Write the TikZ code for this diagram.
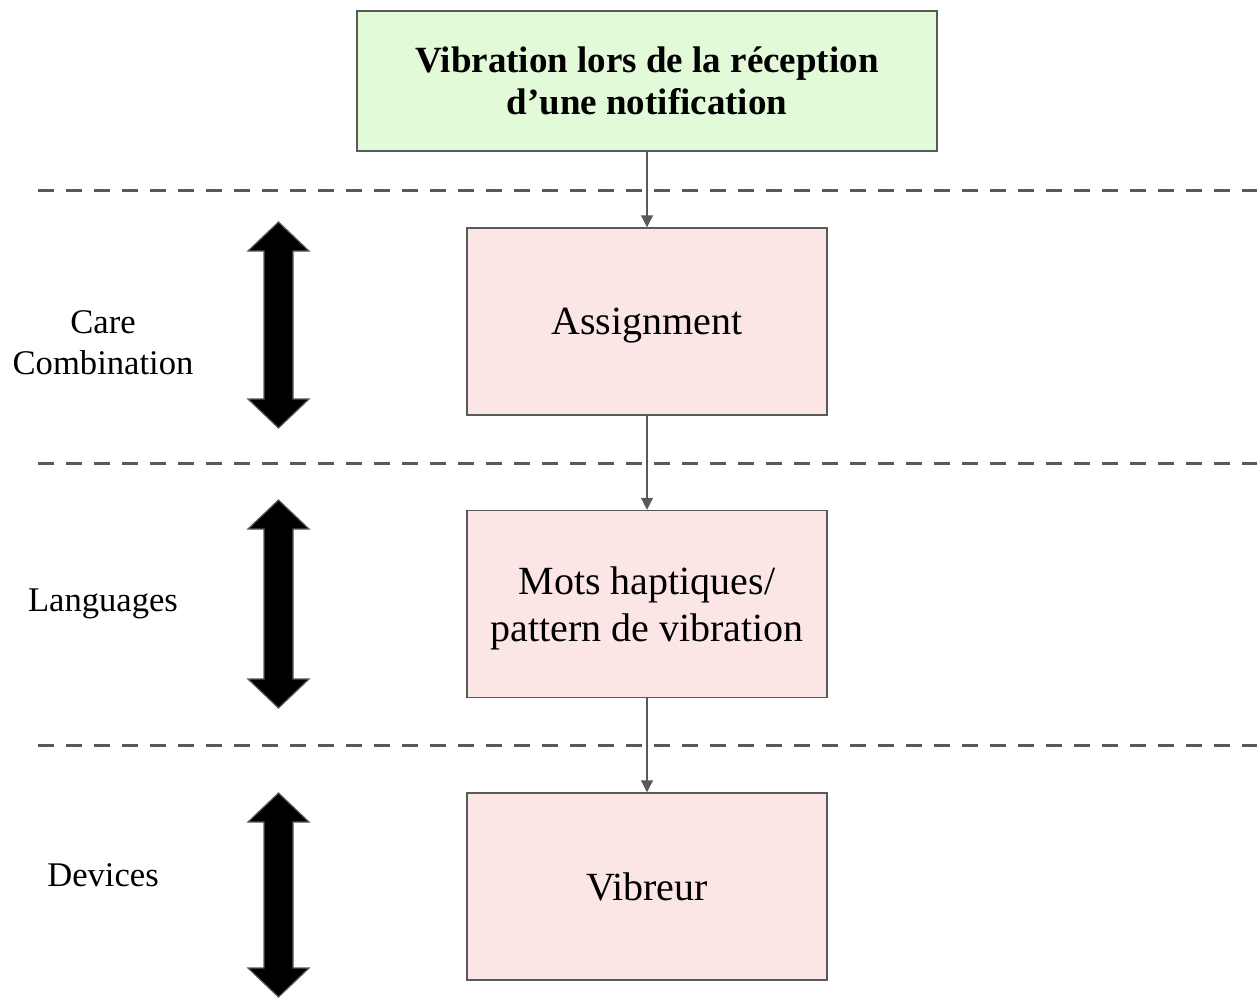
\documentclass[tikz,border=0pt]{standalone}
\usepackage{fontspec}
\setmainfont{Liberation Serif}
\usetikzlibrary{arrows.meta}

\definecolor{edgegray}{HTML}{595959}
\definecolor{notifgreen}{HTML}{E2FAD8}
\definecolor{layerpink}{HTML}{FCE5E5}

\tikzset{
  notifbox/.style={draw=edgegray, line width=0.75pt, fill=notifgreen, minimum width=290pt, minimum height=70pt, align=center, font=\fontsize{18.5}{21}\selectfont\bfseries},
  layerbox/.style={draw=edgegray, line width=0.75pt, fill=layerpink, minimum width=180pt, minimum height=93.5pt, align=center, text depth=0pt, font=\fontsize{20}{23.5}\selectfont},
  layerlabel/.style={align=center, font=\fontsize{17.3}{20.5}\selectfont},
  link/.style={draw=edgegray, line width=0.6pt, -{Triangle[length=6pt,width=6pt]}},
  sep/.style={draw=edgegray, line width=1.5pt, dash pattern=on 8pt off 6pt},
}

\begin{document}
\begin{tikzpicture}[x=0.5pt, y=-0.5pt]
\useasboundingbox (0,0) rectangle (1257,998);
\node[notifbox] (notif) at (647,81) {Vibration lors de la réception\\d’une notification};
\node[layerbox] (assign) at (647,321.5) {Assignment};
\node[layerbox] (mots) at (647,604) {Mots haptiques/\\pattern de vibration};
\node[layerbox] (vibreur) at (647,886.5) {Vibreur};
\draw[link] (notif) -- (assign);
\draw[link] (assign) -- (mots);
\draw[link] (mots) -- (vibreur);
\foreach \y in {190,463,745} {
 \draw[sep] (38,\y) -- (1257,\y);
}
\foreach \t/\b in {222/428, 500/708, 793/997} {
 \draw[edgegray, fill=black, line width=0.6pt] (278.5,\t) -- (309,\t+29) -- (293,\t+29) -- (293,\b-29) -- (309,\b-29) -- (278.5,\b) -- (248,\b-29) -- (264,\b-29) -- (264,\t+29) -- (248,\t+29) -- cycle;
}
\node[layerlabel] (care) at (103,343) {Care\\Combination};
\node[layerlabel] (lang) at (103,604) {Languages};
\node[layerlabel] (dev) at (103,875) {Devices};
\end{tikzpicture}
\end{document}
